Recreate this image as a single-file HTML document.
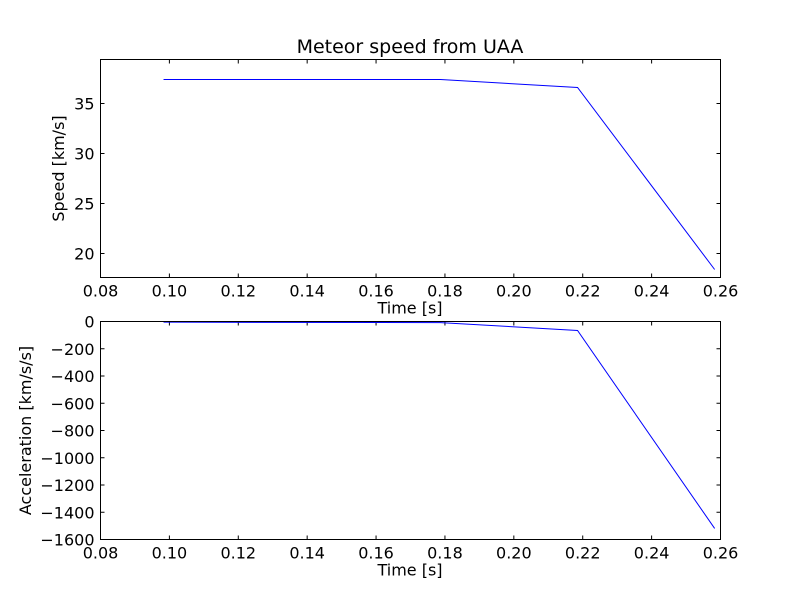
<!DOCTYPE html>
<html><head><meta charset="utf-8"><style>
body{margin:0;background:#fff;}
text{font-family:"DejaVu Sans","Liberation Sans",sans-serif;font-size:16px;fill:#000;}
</style></head><body>
<svg id="c" width="800" height="600" xmlns="http://www.w3.org/2000/svg">
<rect width="800" height="600" fill="#fff"/>
<text x="410" y="53" text-anchor="middle" style="font-size:19px">Meteor speed from  UAA</text>
</svg>
<script>
const times=[0.0983,0.1787,0.2185,0.2583];
const speeds=[37.4,37.4,36.6,18.4];
const accels=[-5,-8,-66,-1519];
const xTicks=[0.08,0.10,0.12,0.14,0.16,0.18,0.20,0.22,0.24,0.26];
const speedTicks=[20,25,30,35];
const accelTicks=[-1600,-1400,-1200,-1000,-800,-600,-400,-200,0];
const svg=document.getElementById('c');
const NS='http://www.w3.org/2000/svg';
function mk(t,a,p){const e=document.createElementNS(NS,t);for(const k in a)e.setAttribute(k,a[k]);(p||svg).appendChild(e);return e;}
const L=100.5,R=720.5;
const xs=v=>L+(v-0.08)/(0.26-0.08)*(R-L);
function panel(name,top,bot,ymin,ymax,yt,ylabel,vals){
  const g=mk('g',{});
  
  
  const ys=v=>bot-(v-ymin)/(ymax-ymin)*(bot-top);
  xTicks.forEach(t=>{const x=xs(t);
    mk('line',{x1:x,x2:x,y1:bot,y2:bot-4,stroke:'#000'},g);
    mk('line',{x1:x,x2:x,y1:top,y2:top+4,stroke:'#000'},g);
    const tx=mk('text',{x:x,y:bot+19,'text-anchor':'middle'},g);tx.textContent=t.toFixed(2);
    
    });
  yt.forEach(t=>{const y=ys(t);
    mk('line',{x1:L,x2:L+4,y1:y,y2:y,stroke:'#000'},g);
    mk('line',{x1:R,x2:R-4,y1:y,y2:y,stroke:'#000'},g);
    const tx=mk('text',{x:L-6,y:y+6,'text-anchor':'end'},g);tx.textContent=(t<0?'\u2212'+(-t):t);
    
    });
  const pts=times.map((t,i)=>xs(t)+','+ys(vals[i])).join(' ');
  const pl=mk('polyline',{points:pts,fill:'none',stroke:'#0000ff','stroke-width':1},g);
  
  
  const fr=mk('rect',{x:L,y:top,width:R-L,height:bot-top,fill:'none',stroke:'#000'},g);
  
  
  const xl=mk('text',{x:410,y:bot+36,'text-anchor':'middle'},g);xl.textContent='Time [s]';
  
  
  const cy=(top+bot)/2;
  const yl=mk('text',{x:0,y:0,'text-anchor':'middle',transform:`translate(${name==='speed-panel'?64:31},${cy}) rotate(-90)`},g);yl.textContent=ylabel;
  
  
}
panel('speed-panel',59.5,277.5,17.6,39.4,speedTicks,'Speed [km/s]',speeds);
panel('accel-panel',321.5,539.5,-1600,0,accelTicks,'Acceleration [km/s/s]',accels);
</script>
</body></html>
